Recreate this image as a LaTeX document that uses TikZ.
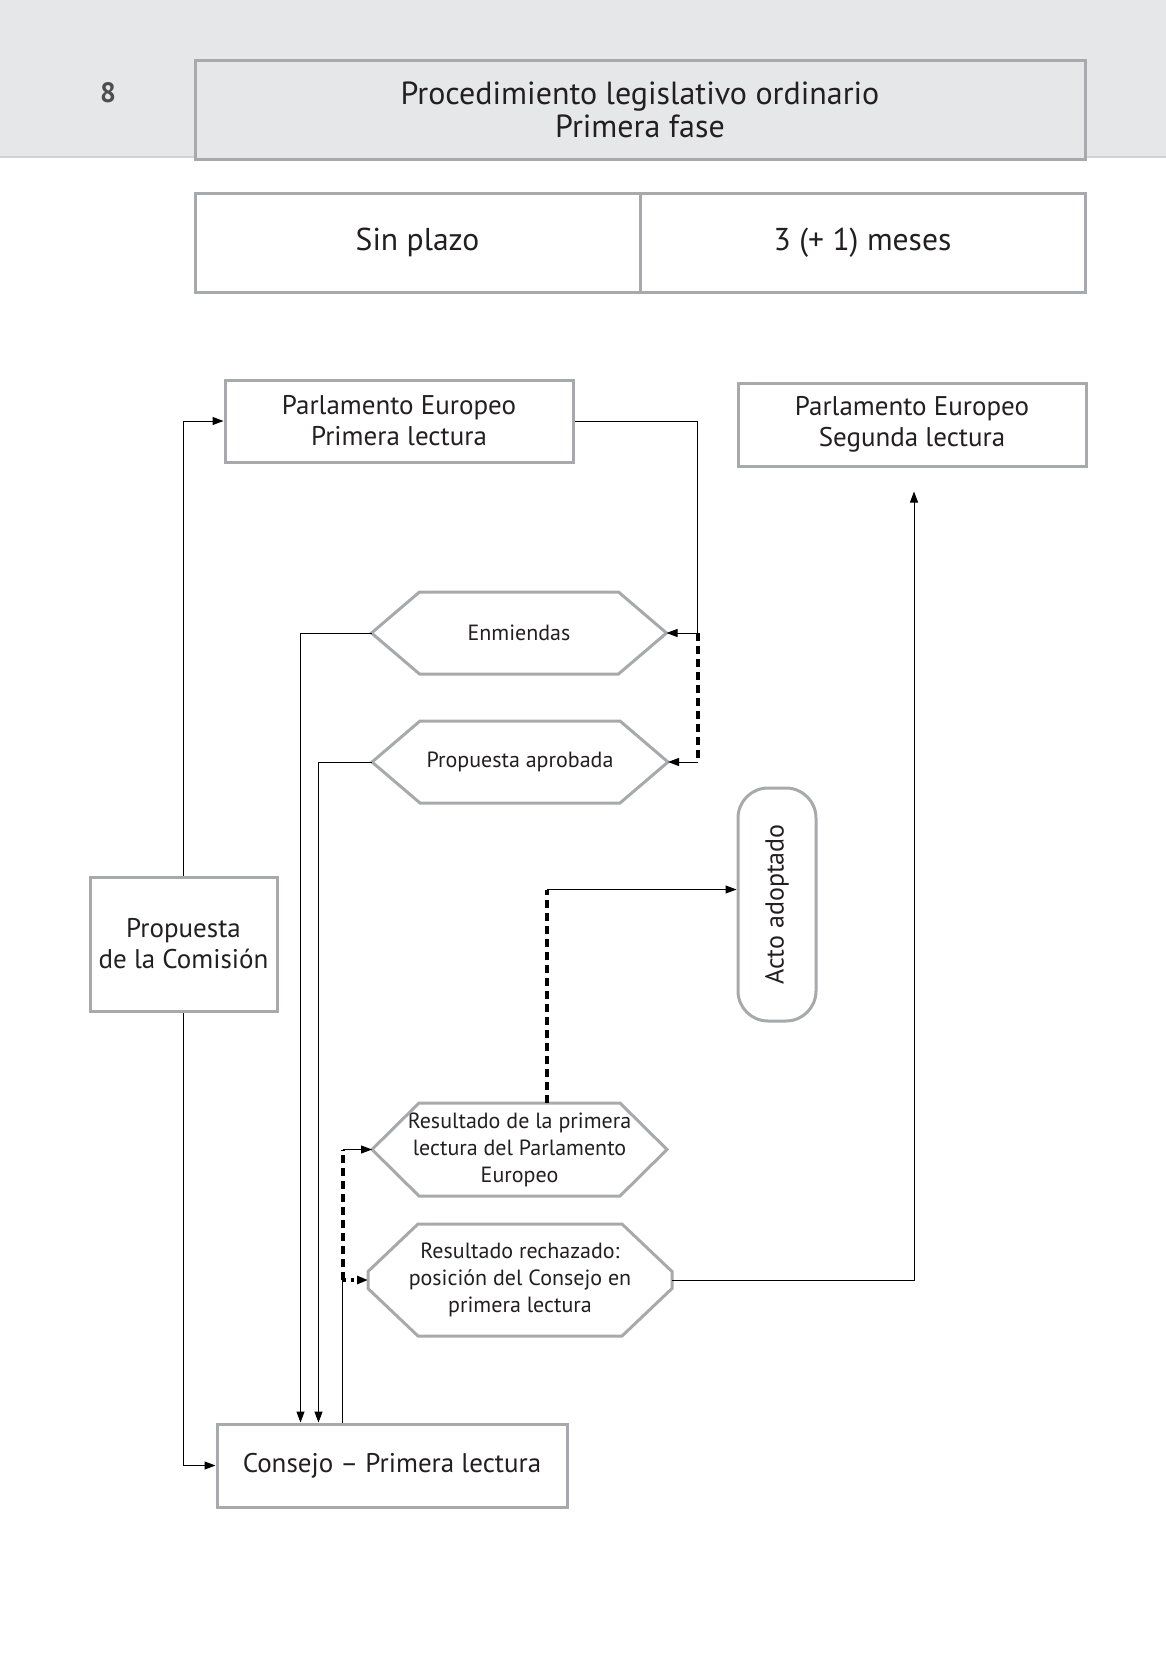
\documentclass[tikz,border=0pt]{standalone}
\usepackage{fontspec}
\setmainfont{PT Sans}
\usetikzlibrary{positioning,calc,arrows.meta}
\definecolor{bandgray}{HTML}{E6E7E8}
\definecolor{linegray}{HTML}{A7A9AC}
\definecolor{numgray}{HTML}{4D4D4F}
\definecolor{txt}{HTML}{231F20}
% contorno de los hexagonos: nodo, corte horizontal, medio lado vertical
\newcommand{\hexout}[3]{%
  \draw[hexline] ($(#1.west)+(0,-#3)$) -- ($(#1.north west)+(#2,0)$)
    -- ($(#1.north east)+(-#2,0)$) -- ($(#1.east)+(0,-#3)$)
    -- ($(#1.east)+(0,#3)$) -- ($(#1.south east)+(-#2,0)$)
    -- ($(#1.south west)+(#2,0)$) -- ($(#1.west)+(0,#3)$) -- cycle;}

\begin{document}
\begin{tikzpicture}[x=0.5pt,y=-0.5pt,
    sz/.style 2 args={minimum width=#1*0.5pt, minimum height=#2*0.5pt},
    box/.style={draw=linegray, line width=1.5pt, fill=white, align=center,
      inner sep=0pt, text=txt, font=\fontsize{13.5}{15.5}\selectfont},
    hexbox/.style={inner sep=0pt, outer sep=0pt, align=center, text=txt,
      font=\fontsize{11}{13.5}\selectfont},
    hexline/.style={draw=linegray, line width=1.5pt, line join=miter},
    link/.style={line width=0.5pt, draw=black},
    conn/.style={link, -{Triangle[length=5.5pt,width=4pt]}},
    trazo/.style={line width=2pt, dash pattern=on 4pt off 2.5pt},
    punteado/.style={line width=2pt, dash pattern=on 1.5pt off 2.5pt,
      -{Triangle[length=5.5pt,width=4pt]}}]
  \useasboundingbox (0,0) rectangle (1166,1654);
  % cabecera
  \fill[bandgray] (0,0) rectangle (1166,157);
  \draw[draw=black!18, line width=1pt] (0,157) -- (1166,157);
  \node[text=numgray, font=\bfseries\fontsize{14}{17}\selectfont] (num) at (108,93) {8};
  \node[box, sz={890}{99}, fill=bandgray, font=\fontsize{16}{16.5}\selectfont] (titulo) at (640,110)
    {Procedimiento legislativo ordinario\\Primera fase};
  \node[box, sz={445}{99}, font=\fontsize{15.8}{17}\selectfont] (plazo) at (417.5,242.5) {\raisebox{-2.5pt}{Sin plazo}};
  \node[box, sz={445}{99}, font=\fontsize{15.8}{17}\selectfont] (meses) at (862.5,242.5) {\raisebox{-2.5pt}{3 (+ 1) meses}};

  % cajas
  \node[box, sz={348}{82}] (pe1) at (399,421) {Parlamento Europeo\\Primera lectura};
  \node[box, sz={348}{83}] (pe2) at (912,424.5) {Parlamento Europeo\\Segunda lectura};
  \node[box, sz={187}{134}] (com) at (183.5,944) {Propuesta\\de la Comisión};
  \node[box, sz={350}{83}] (con) at (392,1465.5) {\raisebox{-1.5pt}{Consejo – Primera lectura}};
  \node[box, sz={78}{233}, rounded corners=15pt, font=\fontsize{13}{15}\selectfont] (acto) at (777,904.5) {\rotatebox{90}{Acto adoptado}};

  % hexagonos
  \node[hexbox, sz={295}{82}] (enm) at (519,633) {Enmiendas};
  \node[hexbox, sz={296}{82}] (prop) at (520,762) {Propuesta aprobada};
  \node[hexbox, sz={295}{93}] (res1) at (519.5,1149.5) {Resultado de la primera\\lectura del Parlamento\\Europeo};
  \node[hexbox, sz={304}{112}] (res2) at (520,1280) {Resultado rechazado:\\posición del Consejo en\\primera lectura};
  \hexout{enm}{48}{0}
  \hexout{prop}{48}{0}
  \hexout{res1}{47}{0}
  \hexout{res2}{50}{8.5}

  % conexiones
  \draw[conn] (com.north) |- (pe1.west);
  \draw[conn] (com.south) |- (con.west);
  \coordinate (sp) at ($(enm.east)+(31,0)$);
  \draw[link] (pe1.east) -| (sp);
  \draw[conn] (sp) -- (enm.east);
  \draw[trazo] (sp) -- (sp |- prop.east);
  \draw[conn] (sp |- prop.east) -- (prop.east);
  \draw[conn] (enm.west) -| ($(con.north west)+(85,0)$);
  \draw[conn] (prop.west) -| ($(con.north west)+(103,0)$);
  \coordinate (vc) at ($(con.north west)+(127,0)$);
  \draw[link] (vc) -- (vc |- res2.west);
  \draw[trazo] (vc |- res2.west) -- (vc |- res1.west);
  \draw[conn] (vc |- res1.west) -- (res1.west);
  \draw[punteado] (vc |- res2.west) -- (res2.west);
  \coordinate (ra) at ($(res1.north)+(27.5,0)$);
  \coordinate (aw) at ($(acto.west)+(0,-15)$);
  \draw[trazo] (ra) -- (ra |- aw);
  \draw[conn] (ra |- aw) -- (aw);
  \coordinate (up) at ($(pe2.south)+(2,24)$);
  \draw[conn] (res2.east) -| (up);
\end{tikzpicture}
\end{document}
